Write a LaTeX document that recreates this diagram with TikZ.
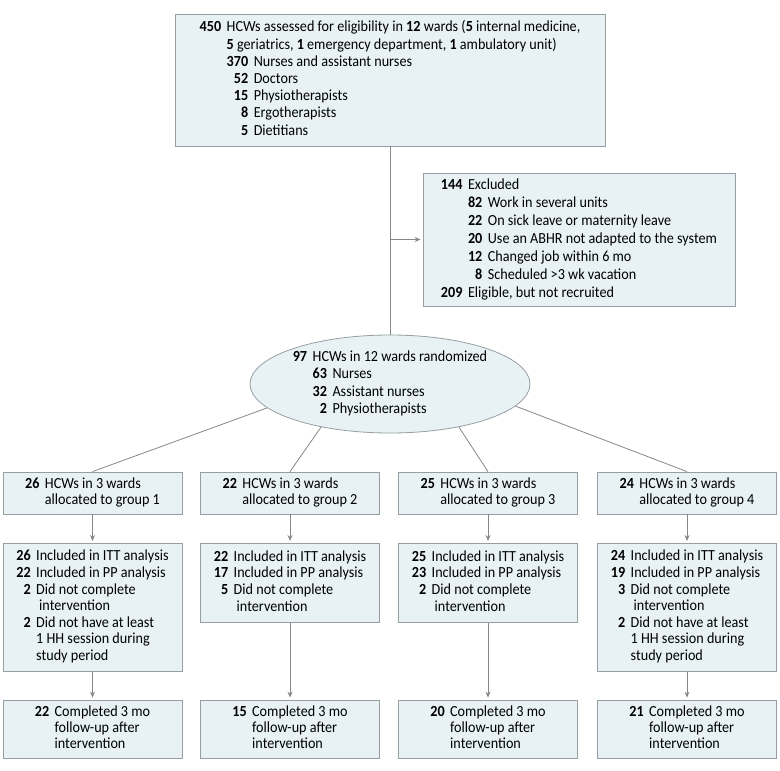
\documentclass[tikz,border=0pt]{standalone}
\usepackage{fontspec}
\setmainfont{Carlito}[FakeStretch=0.92]
\usepackage{xcolor}
\usetikzlibrary{shapes.geometric,arrows.meta}
\definecolor{boxfill}{RGB}{232,242,244}
\definecolor{boxline}{RGB}{150,158,162}
\definecolor{linkgray}{RGB}{135,135,135}
\newcommand{\nlist}[1]{\begin{tabular}[t]{@{}r@{\hspace{5.5pt}}l@{}}#1\end{tabular}}
\newcommand{\nb}[1]{\textbf{#1}}

\begin{document}
\begin{tikzpicture}[x=1pt,y=-1pt,
	font=\fontsize{15.4}{16.6}\selectfont,
	flowbox/.style={draw=boxline,fill=boxfill,line width=0.8pt,inner sep=0pt},
	link/.style={draw=linkgray,line width=0.8pt},
	arrow/.style={link,-{Stealth[length=6pt,width=5pt]},shorten >=2pt}]
	\useasboundingbox (0,0) rectangle (780,771);
	%% enrollment
	\node[flowbox,minimum width=430,minimum height=132,font=\fontsize{15.4}{17.2}\selectfont] (assess) at (390,80)
		{\nlist{\nb{450} & HCWs assessed for eligibility in \nb{12} wards (\nb{5} internal medicine,\\
		& \nb{5} geriatrics, \nb{1} emergency department, \nb{1} ambulatory unit)\\
		& \nlist{\nb{370} & Nurses and assistant nurses\\ \nb{52} & Doctors\\ \nb{15} & Physiotherapists\\
		\nb{8} & Ergotherapists\\ \nb{5} & Dietitians}}};
	\node[flowbox,minimum width=312,minimum height=133,font=\fontsize{15.4}{18}\selectfont] (excl) at (579,239.5)
		{\nlist{\nb{144} & Excluded\\
		& \nlist{\nb{82} & Work in several units\\ \nb{22} & On sick leave or maternity leave\\
		\nb{20} & Use an ABHR not adapted to the system\\ \nb{12} & Changed job within 6 mo\\
		\nb{8} & Scheduled >3 wk vacation}\\
		\nb{209} & Eligible, but not recruited}};
	\node[flowbox,ellipse,minimum width=280,minimum height=98,font=\fontsize{15.4}{17.3}\selectfont] (rand) at (390,384)
		{\nlist{\nb{97} & HCWs in 12 wards randomized\\
		& \nlist{\nb{63} & Nurses\\ \nb{32} & Assistant nurses\\ \nb{2} & Physiotherapists}}};
	%% allocation
	\node[flowbox,minimum width=179,minimum height=42] (g1) at (92.5,493)
		{\nlist{\nb{26} & HCWs in 3 wards\\ & allocated to group 1}};
	\node[flowbox,minimum width=179,minimum height=42] (g2) at (290,493)
		{\nlist{\nb{22} & HCWs in 3 wards\\ & allocated to group 2}};
	\node[flowbox,minimum width=179,minimum height=42] (g3) at (488,493)
		{\nlist{\nb{25} & HCWs in 3 wards\\ & allocated to group 3}};
	\node[flowbox,minimum width=179,minimum height=42] (g4) at (687,493)
		{\nlist{\nb{24} & HCWs in 3 wards\\ & allocated to group 4}};
	%% analysis
	\node[flowbox,anchor=north,minimum width=179,minimum height=128] (a1) at (92.5,543)
		{\nlist{\nb{26} & Included in ITT analysis\\ \nb{22} & Included in PP analysis\\
		\nb{2} & Did not complete\\ & \hspace{3pt}intervention\\
		\nb{2} & Did not have at least\\ & 1 HH session during\\ & study period}};
	\node[flowbox,anchor=north,minimum width=179,minimum height=79] (a2) at (290,543)
		{\nlist{\nb{22} & Included in ITT analysis\\ \nb{17} & Included in PP analysis\\
		\nb{5} & Did not complete\\ & \hspace{3pt}intervention}};
	\node[flowbox,anchor=north,minimum width=179,minimum height=79] (a3) at (488,543)
		{\nlist{\nb{25} & Included in ITT analysis\\ \nb{23} & Included in PP analysis\\
		\nb{2} & Did not complete\\ & \hspace{3pt}intervention}};
	\node[flowbox,anchor=north,minimum width=179,minimum height=128] (a4) at (687,543)
		{\nlist{\nb{24} & Included in ITT analysis\\ \nb{19} & Included in PP analysis\\
		\nb{3} & Did not complete\\ & \hspace{3pt}intervention\\
		\nb{2} & Did not have at least\\ & 1 HH session during\\ & study period}};
	%% follow-up
	\node[flowbox,minimum width=179,minimum height=58,font=\fontsize{15.4}{16}\selectfont] (f1) at (92.5,729)
		{\nlist{\nb{22} & Completed 3 mo\\ & follow-up after\\ & intervention}};
	\node[flowbox,minimum width=179,minimum height=58,font=\fontsize{15.4}{16}\selectfont] (f2) at (290,729)
		{\nlist{\nb{15} & Completed 3 mo\\ & follow-up after\\ & intervention}};
	\node[flowbox,minimum width=179,minimum height=58,font=\fontsize{15.4}{16}\selectfont] (f3) at (488,729)
		{\nlist{\nb{20} & Completed 3 mo\\ & follow-up after\\ & intervention}};
	\node[flowbox,minimum width=179,minimum height=58,font=\fontsize{15.4}{16}\selectfont] (f4) at (687,729)
		{\nlist{\nb{21} & Completed 3 mo\\ & follow-up after\\ & intervention}};
	%% connectors
	\coordinate (split) at (assess.south |- excl.west);
	\draw[link] (assess.south) -- (rand.north);
	\draw[arrow] (split) -- (excl.west);
	\draw[link] (rand.191) -- (g1.north);
	\draw[link] (rand.212) -- (g2.north);
	\draw[link] (rand.328) -- (g3.north);
	\draw[link] (rand.350) -- (g4.north);
	\draw[arrow] (g1.south) -- (a1.north);
	\draw[arrow] (g2.south) -- (a2.north);
	\draw[arrow] (g3.south) -- (a3.north);
	\draw[arrow] (g4.south) -- (a4.north);
	\draw[arrow] (a1.south) -- (f1.north);
	\draw[arrow] (a2.south) -- (f2.north);
	\draw[arrow] (a3.south) -- (f3.north);
	\draw[arrow] (a4.south) -- (f4.north);
\end{tikzpicture}
\end{document}
